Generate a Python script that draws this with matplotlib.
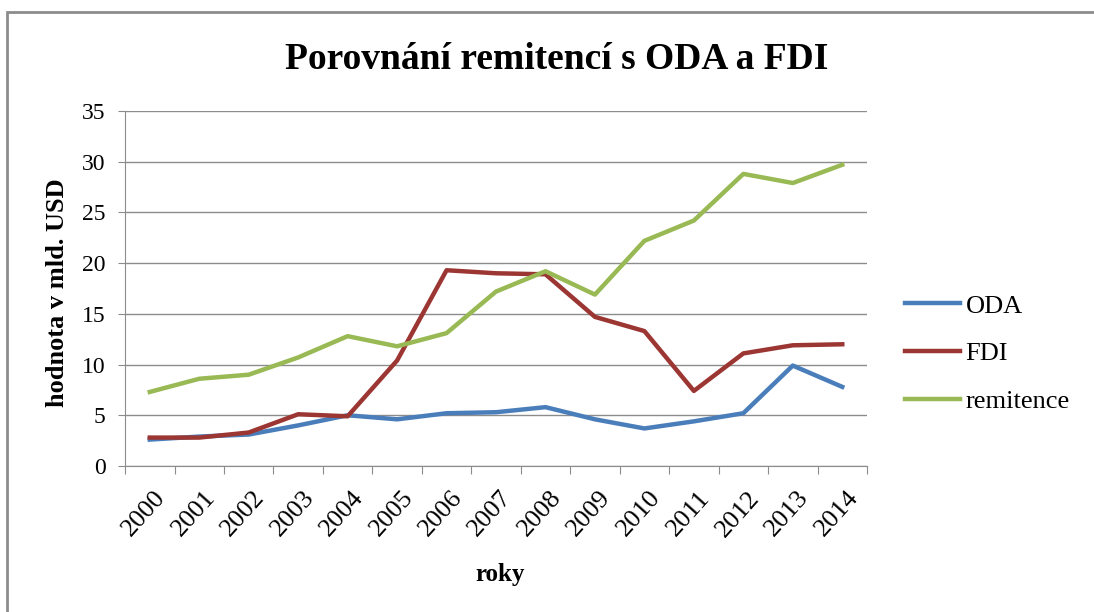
import matplotlib

matplotlib.use("Agg")
import matplotlib.pyplot as plt
from matplotlib.patches import Rectangle
from matplotlib.transforms import ScaledTranslation

plt.rcParams["font.family"] = ["Liberation Serif", "DejaVu Serif"]

# Data (mld. USD)
years = ["2000", "2001", "2002", "2003", "2004", "2005", "2006", "2007",
         "2008", "2009", "2010", "2011", "2012", "2013", "2014"]
oda = [2.6, 2.9, 3.1, 4.0, 5.0, 4.6, 5.2, 5.3, 5.8, 4.6, 3.7, 4.4, 5.2, 9.9, 7.8]
fdi = [2.8, 2.8, 3.3, 5.1, 4.9, 10.4, 19.3, 19.0, 18.9, 14.7, 13.3, 7.4, 11.1, 11.9, 12.0]
remitence = [7.3, 8.6, 9.0, 10.7, 12.8, 11.8, 13.1, 17.2, 19.2, 16.9, 22.2, 24.2, 28.8, 27.9, 29.7]

fig = plt.figure(figsize=(10.94, 6.12), dpi=100)
fig.patches.append(Rectangle((0.006, -0.01), 1.1, 0.99, transform=fig.transFigure,
                             fill=False, edgecolor="#8c8c8c", linewidth=2))
ax = fig.add_axes([0.1143, 0.2386, 0.6782, 0.58])

x = range(len(years))
ax.plot(x, oda, color="#4A7EBB", linewidth=3.2, label="ODA")
ax.plot(x, fdi, color="#9B3633", linewidth=3.2, label="FDI")
ax.plot(x, remitence, color="#98B954", linewidth=3.2, label="remitence")

ax.set_xlim(-0.5, len(years) - 0.5)
ax.set_ylim(0, 35)
ax.set_yticks(range(0, 36, 5))
ax.set_xticks([i - 0.5 for i in range(len(years) + 1)])
ax.set_xticklabels([])
ax.set_xticks(list(x), minor=True)
ax.set_xticklabels(years, minor=True, rotation=48, ha="right", va="top",
                   rotation_mode="anchor", fontsize=19)
ax.tick_params(axis="x", which="minor", length=0, pad=10)
ax.tick_params(axis="x", which="major", length=6, color="#8c8c8c", direction="out")
ax.tick_params(axis="y", length=5, color="#8c8c8c", labelsize=17, pad=9)

# nudge year labels (after tick_params, which resets label transforms)
shift = ScaledTranslation(0.04, -0.07, fig.dpi_scale_trans)
for lbl in ax.get_xticklabels(minor=True):
    lbl.set_transform(lbl.get_transform() + shift)

ax.grid(axis="y", color="#8c8c8c", linewidth=1)
ax.set_axisbelow(True)
for side in ["top", "right"]:
    ax.spines[side].set_visible(False)
for side in ["left", "bottom"]:
    ax.spines[side].set_color("#8c8c8c")

fig.text(0.457, 1 - 575 / 612, "roky", ha="center", va="center",
         fontsize=18, fontweight="bold")
fig.text(0.053, 1 - 293 / 612, "hodnota v mld. USD", ha="center", va="center",
         rotation=90, fontsize=19, fontweight="bold")
fig.text(0.509, 0.902, "Porovnání remitencí s ODA a FDI", ha="center", va="center",
         fontsize=27, fontweight="bold")

fig.legend(loc="center left", bbox_to_anchor=(0.8272, 0.4223), frameon=False,
           fontsize=19, handlelength=2.1, handletextpad=0.2, labelspacing=0.92,
           borderpad=0, borderaxespad=0)

fig.savefig("out.png", dpi=100, facecolor="white")
